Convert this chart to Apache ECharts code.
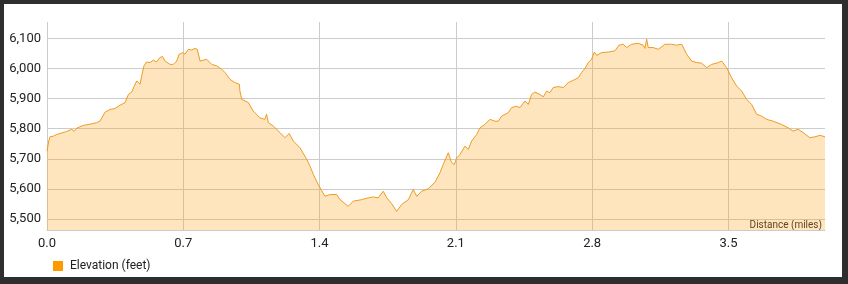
<!DOCTYPE html>
<html>
<head>
<meta charset="utf-8">
<script src="https://cdn.jsdelivr.net/npm/echarts@6/dist/echarts.min.js"></script>
<style>
html,body{margin:0;padding:0;background:#2e2e2e;width:848px;height:284px;overflow:hidden;}
#chart{position:absolute;left:4px;top:4px;width:838px;height:273px;background:#fff;}
</style>
</head>
<body>
<div id="chart"></div>
<script>
const distances = [0.000,0.009,0.015,0.032,0.050,0.067,0.101,0.127,0.139,0.153,0.186,0.221,0.255,0.272,0.298,0.324,0.349,0.375,0.401,0.418,0.435,0.447,0.461,0.478,0.486,0.498,0.512,0.529,0.546,0.563,0.580,0.594,0.606,0.632,0.649,0.666,0.679,0.697,0.709,0.726,0.743,0.760,0.772,0.786,0.820,0.846,0.872,0.897,0.914,0.940,0.966,0.988,0.991,1.000,1.034,1.059,1.094,1.119,1.128,1.137,1.162,1.197,1.222,1.244,1.265,1.299,1.334,1.351,1.368,1.393,1.402,1.428,1.453,1.488,1.505,1.547,1.573,1.616,1.650,1.676,1.701,1.727,1.745,1.770,1.796,1.822,1.856,1.881,1.899,1.924,1.958,1.993,2.018,2.035,2.061,2.078,2.092,2.104,2.121,2.147,2.164,2.181,2.207,2.224,2.249,2.275,2.301,2.318,2.335,2.369,2.386,2.412,2.429,2.455,2.472,2.489,2.506,2.532,2.549,2.566,2.583,2.600,2.626,2.652,2.677,2.686,2.712,2.729,2.746,2.763,2.780,2.797,2.811,2.823,2.849,2.883,2.917,2.938,2.960,2.977,3.003,3.037,3.062,3.071,3.080,3.088,3.114,3.140,3.174,3.208,3.234,3.260,3.285,3.311,3.337,3.362,3.388,3.414,3.448,3.465,3.491,3.516,3.542,3.568,3.593,3.619,3.645,3.670,3.696,3.730,3.773,3.807,3.832,3.858,3.884,3.918,3.944,3.970,3.996];
const elevations = [5725,5759,5773,5775,5781,5784,5791,5798,5791,5802,5811,5815,5820,5825,5855,5864,5867,5878,5887,5914,5922,5940,5959,5948,5975,6009,6022,6020,6028,6022,6037,6040,6025,6014,6014,6025,6048,6053,6048,6064,6062,6067,6064,6025,6031,6014,6009,5998,5987,5964,5953,5948,5925,5898,5887,5859,5836,5831,5848,5820,5809,5787,5770,5784,5759,5737,5698,5675,5648,5614,5609,5575,5581,5581,5564,5542,5559,5564,5570,5573,5570,5592,5570,5551,5525,5548,5564,5598,5575,5592,5600,5622,5653,5681,5720,5687,5681,5703,5714,5742,5731,5759,5781,5803,5814,5831,5825,5825,5842,5853,5870,5875,5870,5892,5881,5914,5922,5914,5906,5925,5920,5937,5940,5937,5953,5955,5964,5970,5987,6000,6020,6031,6055,6044,6053,6055,6059,6078,6081,6070,6081,6084,6078,6067,6098,6070,6070,6064,6081,6081,6078,6081,6048,6025,6020,6018,6003,6014,6020,6025,6003,5970,5942,5925,5898,5881,5848,5842,5831,5825,5814,5803,5792,5798,5787,5770,5773,5778,5773];
const xTicks = [0, 0.7, 1.4, 2.1, 2.8, 3.5];
const yTicks = [5500, 5600, 5700, 5800, 5900, 6000, 6100];
const seriesName = 'Elevation (feet)';
const xTitle = 'Distance (miles)';

const chart = echarts.init(document.getElementById('chart'), null, {renderer: 'canvas'});
const pts = distances.map((d, i) => [d, elevations[i]]);
const font = 'Roboto, "Noto Sans", sans-serif';
chart.setOption({
  animation: false,
  backgroundColor: '#fff',
  grid: {left: 43, right: 17, top: 18, bottom: 47, containLabel: false},
  legend: {
    left: 49, top: 256, padding: 0, icon: 'rect', itemWidth: 10, itemHeight: 10,
    textStyle: {fontFamily: font, fontSize: 12, color: '#222', padding: [0, 0, 0, 2]},
    data: [{name: seriesName, itemStyle: {color: '#FF9900'}}]
  },
  xAxis: {
    type: 'value', min: 0, max: distances[distances.length - 1],
    axisLine: {show: true, lineStyle: {color: '#ccc'}},
    axisTick: {show: false, customValues: xTicks},
    axisLabel: {customValues: xTicks, formatter: v => v.toFixed(1), fontFamily: font, fontSize: 13, color: '#222', margin: 7},
    splitLine: {show: true, lineStyle: {color: '#ccc', width: 1}}
  },
  yAxis: {
    type: 'value', min: 5463, max: 6155,
    axisLine: {show: false},
    axisTick: {show: false, customValues: yTicks},
    axisLabel: {customValues: yTicks, formatter: v => v.toLocaleString('en-US'), fontFamily: font, fontSize: 13, color: '#222', margin: 6},
    splitLine: {show: true, lineStyle: {color: '#ccc', width: 1}}
  },
  graphic: [{
    type: 'text', right: 20, top: 216,
    style: {text: xTitle, font: '10px Roboto, "Noto Sans", sans-serif', fill: '#222'}
  }],
  series: [{
    name: seriesName, type: 'line', data: pts, symbol: 'none', showSymbol: false,
    lineStyle: {color: '#EE9C22', width: 1},
    itemStyle: {color: '#FF9900'},
    areaStyle: {color: 'rgba(252,160,20,0.4)'}
  }]
});
</script>
</body>
</html>
